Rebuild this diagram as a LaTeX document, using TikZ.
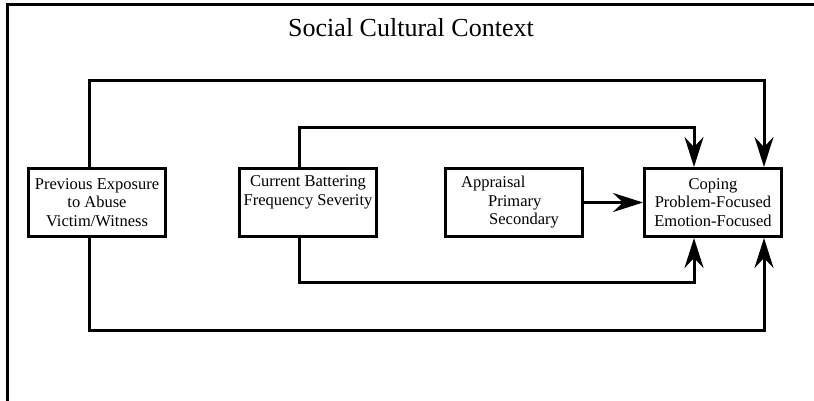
\documentclass[tikz,border=0pt]{standalone}
\usepackage{fontspec}
\setmainfont{Liberation Serif}
\usetikzlibrary{arrows.meta}
\begin{document}
\begin{tikzpicture}[x=1pt,y=-1pt,
  box/.style={draw, line width=3pt, minimum width=137pt, minimum height=68pt, inner sep=0pt, align=center, font=\fontsize{16.5}{18.5}\selectfont},
  txt/.style={font=\fontsize{16.5}{18.5}\selectfont, inner sep=0pt, align=left},
  link/.style={line width=3pt, -{Stealth[length=30pt,width=19pt,inset=10pt]}}]
\useasboundingbox (0,0) rectangle (814,400);
\clip (0,0) rectangle (814,400);
\draw[line width=3pt] (7,4) rectangle (840,430);
\node[font=\fontsize{26}{30}\selectfont, inner sep=0pt] (title) at (411,28) {Social Cultural Context};
\node[box] (b1) at (97,202.5) {Previous Exposure\\to Abuse\\Victim/Witness};
\node[box] (b2) at (308,202.5) {Current Battering\\Frequency Severity\\\strut};
\node[box] (b3) at (514,202.5) {};
\node[txt, anchor=west] (b3t) at (461,202.5) {Appraisal\\\hspace*{27pt}Primary\\\hspace*{28pt}Secondary};
\node[box] (b4) at (713,202.5) {Coping\\Problem-Focused\\Emotion-Focused};
\coordinate (o1) at (89,80);
\coordinate (o2) at (764,80);
\coordinate (i1) at (299,127);
\coordinate (i2) at (694,127);
\coordinate (j1) at (299,282);
\coordinate (j2) at (694,282);
\coordinate (k1) at (89,330);
\coordinate (k2) at (764,330);
\draw[link] (b1.north -| o1) -- (o1) -- (o2) -- (b4.north -| o2);
\draw[link] (b2.north -| i1) -- (i1) -- (i2) -- (b4.north -| i2);
\draw[link] (b2.south -| j1) -- (j1) -- (j2) -- (b4.south -| j2);
\draw[link] (b1.south -| k1) -- (k1) -- (k2) -- (b4.south -| k2);
\draw[link] (b3.east) -- (b4.west);
\end{tikzpicture}
\end{document}
